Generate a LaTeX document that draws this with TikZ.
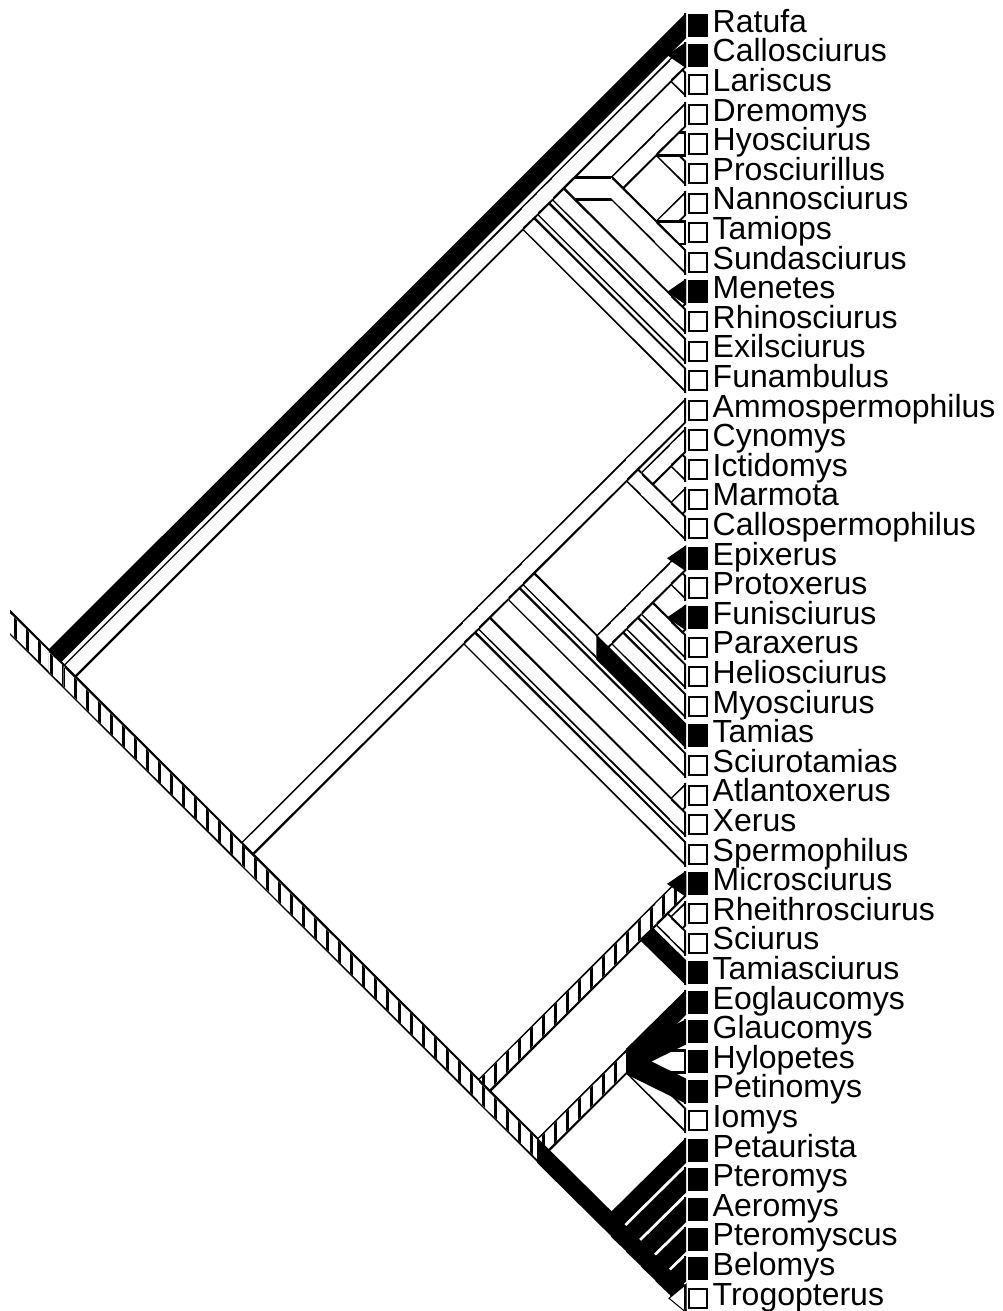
\documentclass[tikz,border=0pt]{standalone}
\usepackage{fontspec}
\setmainfont{Liberation Sans}
\usetikzlibrary{calc}

\tikzset{
  tiplabel/.style={anchor=base west, inner sep=0pt, font=\fontsize{32}{32}\selectfont},
  tipfull/.style={fill=black},
  tipempty/.style={draw=black, line width=2pt, fill=white},
  tipend/.style={line width=2pt},
  hatchbar/.style={fill=black}
}
\newcommand\hout{12.6}
\newcommand\hin{9.8}
% node of clade [#1..#2]: where the diagonals from its outer tips meet
\newcommand\clade[2]{\coordinate (c#1-#2) at ({686-14.8*(#2-#1)},{25.5+14.8*(#1+#2-2)});}
% fat branch from #1 to #2, half height #3, vertical ends (start pulled back by #4)
\newcommand\band[4]{($(#1)+(-#4,-#3)$) -- ($(#2)+(0,-#3)$) -- ($(#2)+(0,#3)$) -- ($(#1)+(-#4,#3)$) -- cycle}
% one branch per state: k = black, w = hollow, h = hatched
\newcommand\drawbandk[2]{\fill \band{#1}{#2}{\hout}{0.8};}
\newcommand\drawbandw[2]{\fill \band{#1}{#2}{\hout}{0}; \fill[white] \band{#1}{#2}{\hin}{0.8};}
\newcommand\drawbandh[2]{\fill \band{#1}{#2}{\hout}{0};
  \begin{scope}
    \clip \band{#1}{#2}{\hin}{0.8};
    \fill[white] (0,0) rectangle (1002,1311);
    \foreach \s in {2,14,...,698} {\fill[hatchbar] (\s,0) rectangle ++(3.2,1311);}
  \end{scope}}

\begin{document}
\begin{tikzpicture}[x=1pt, y=-1pt]
\useasboundingbox (0,0) rectangle (1002,1311);

% --- nodes ---
\coordinate (stem) at (10,622.3);
\foreach \i in {1,...,44} {\clade{\i}{\i}}
\foreach \a/\b in {1/44,2/44,2/13,2/12,2/11,2/3,4/9,4/6,7/9,10/11,
  14/44,14/29,14/28,27/28,14/26,14/25,14/18,15/18,15/16,17/18,
  19/25,19/24,19/23,19/22,19/20,21/22,
  30/44,30/33,30/32,31/32,34/44,34/38,
  39/44,40/44,41/44,42/44,43/44} {\clade{\a}{\b}}

% --- branches, in drawing order (later ones lie on top) ---
\foreach \p/\c/\k in {stem/c1-44/h, c1-44/c1-1/k, c1-44/c2-44/h,
  % Callosciurus .. Funambulus
  c2-44/c2-13/w, c2-13/c13-13/w, c2-13/c2-12/w, c2-12/c12-12/w, c2-12/c2-11/w,
  c2-11/c4-9/w, c4-9/c4-6/w, c4-6/c6-6/w, c4-6/c5-5/w, c4-6/c4-4/w,
  c4-9/c7-9/w, c7-9/c7-7/w, c7-9/c8-8/w, c7-9/c9-9/w,
  c2-11/c10-11/w, c10-11/c10-10/w, c10-11/c11-11/w,
  c2-11/c2-3/w, c2-3/c3-3/w, c2-3/c2-2/w,
  % Ammospermophilus .. Spermophilus
  c2-44/c14-44/h, c14-44/c14-29/w, c14-29/c29-29/w, c14-29/c14-28/w,
  c14-28/c27-28/w, c27-28/c27-27/w, c27-28/c28-28/w,
  c14-28/c14-26/w, c14-26/c26-26/w, c14-26/c14-25/w,
  c14-25/c19-25/w, c19-25/c19-24/w, c19-24/c24-24/w, c19-24/c19-23/w,
  c19-23/c23-23/w, c19-23/c19-22/w,
  c19-22/c21-22/w, c21-22/c21-21/w, c21-22/c22-22/w,
  c19-22/c19-20/w, c19-20/c20-20/w, c19-20/c19-19/w, c19-25/c25-25/k,
  c14-25/c14-18/w, c14-18/c15-18/w,
  c15-18/c15-16/w, c15-16/c16-16/w, c15-16/c15-15/w,
  c15-18/c17-18/w, c17-18/c17-17/w, c17-18/c18-18/w, c14-18/c14-14/w,
  % Microsciurus .. Trogopterus
  c14-44/c30-44/h, c30-44/c30-33/h, c30-33/c33-33/k, c30-33/c30-32/h,
  c30-32/c31-32/w, c31-32/c31-31/w, c31-32/c32-32/w, c30-32/c30-30/h,
  c30-44/c34-44/h, c34-44/c34-38/h,
  c34-38/c36-36/w, c34-38/c38-38/w, c34-38/c37-37/k, c34-38/c35-35/k, c34-38/c34-34/k,
  c34-44/c39-44/k, c39-44/c39-39/k, c39-44/c40-44/k,
  c40-44/c40-40/k, c40-44/c41-44/k, c41-44/c41-41/k, c41-44/c42-44/k,
  c42-44/c42-42/k, c42-44/c43-44/k, c43-44/c43-43/k, c43-44/c44-44/k}
  {\csname drawband\k\endcsname{\p}{\c}}

% --- tip ends ---
\foreach \i in {2,10,19,21,30} {
  \fill ($(c\i-\i)+(-19,0)$) -- ($(c\i-\i)+(0,-13)$) -- ($(c\i-\i)+(0,13)$) -- cycle;
}
\filldraw[fill=white, line width=1pt] ($(c44-44)+(-17,0)$) -- ($(c44-44)+(0,-14)$) -- ($(c44-44)+(0,14)$) -- cycle;
\foreach \i in {1,...,44} {\draw[tipend] ($(c\i-\i)+(-1,-\hout)$) -- ($(c\i-\i)+(-1,\hout)$);}

% --- terminal boxes and names ---
\foreach \i/\name/\st in {1/Ratufa/1, 2/Callosciurus/1, 3/Lariscus/0, 4/Dremomys/0,
  5/Hyosciurus/0, 6/Prosciurillus/0, 7/Nannosciurus/0, 8/Tamiops/0, 9/Sundasciurus/0,
  10/Menetes/1, 11/Rhinosciurus/0, 12/Exilsciurus/0, 13/Funambulus/0,
  14/Ammospermophilus/0, 15/Cynomys/0, 16/Ictidomys/0, 17/Marmota/0,
  18/Callospermophilus/0, 19/Epixerus/1, 20/Protoxerus/0, 21/Funisciurus/1,
  22/Paraxerus/0, 23/Heliosciurus/0, 24/Myosciurus/0, 25/Tamias/1,
  26/Sciurotamias/0, 27/Atlantoxerus/0, 28/Xerus/0, 29/Spermophilus/0,
  30/Microsciurus/1, 31/Rheithrosciurus/0, 32/Sciurus/0, 33/Tamiasciurus/1,
  34/Eoglaucomys/1, 35/Glaucomys/1, 36/Hylopetes/1, 37/Petinomys/1, 38/Iomys/0,
  39/Petaurista/1, 40/Pteromys/1, 41/Aeromys/1, 42/Pteromyscus/1, 43/Belomys/1,
  44/Trogopterus/0} {
  \ifnum\st=1
    \fill[tipfull] ($(c\i-\i)+(2,-11.5)$) rectangle ($(c\i-\i)+(22,11.5)$);
  \else
    \draw[tipempty] ($(c\i-\i)+(3,-9.6)$) rectangle ($(c\i-\i)+(21,9.6)$);
  \fi
  \node[tiplabel] (l\i) at ($(c\i-\i)+(26.5,6.8)$) {\name};
}

\end{tikzpicture}
\end{document}
